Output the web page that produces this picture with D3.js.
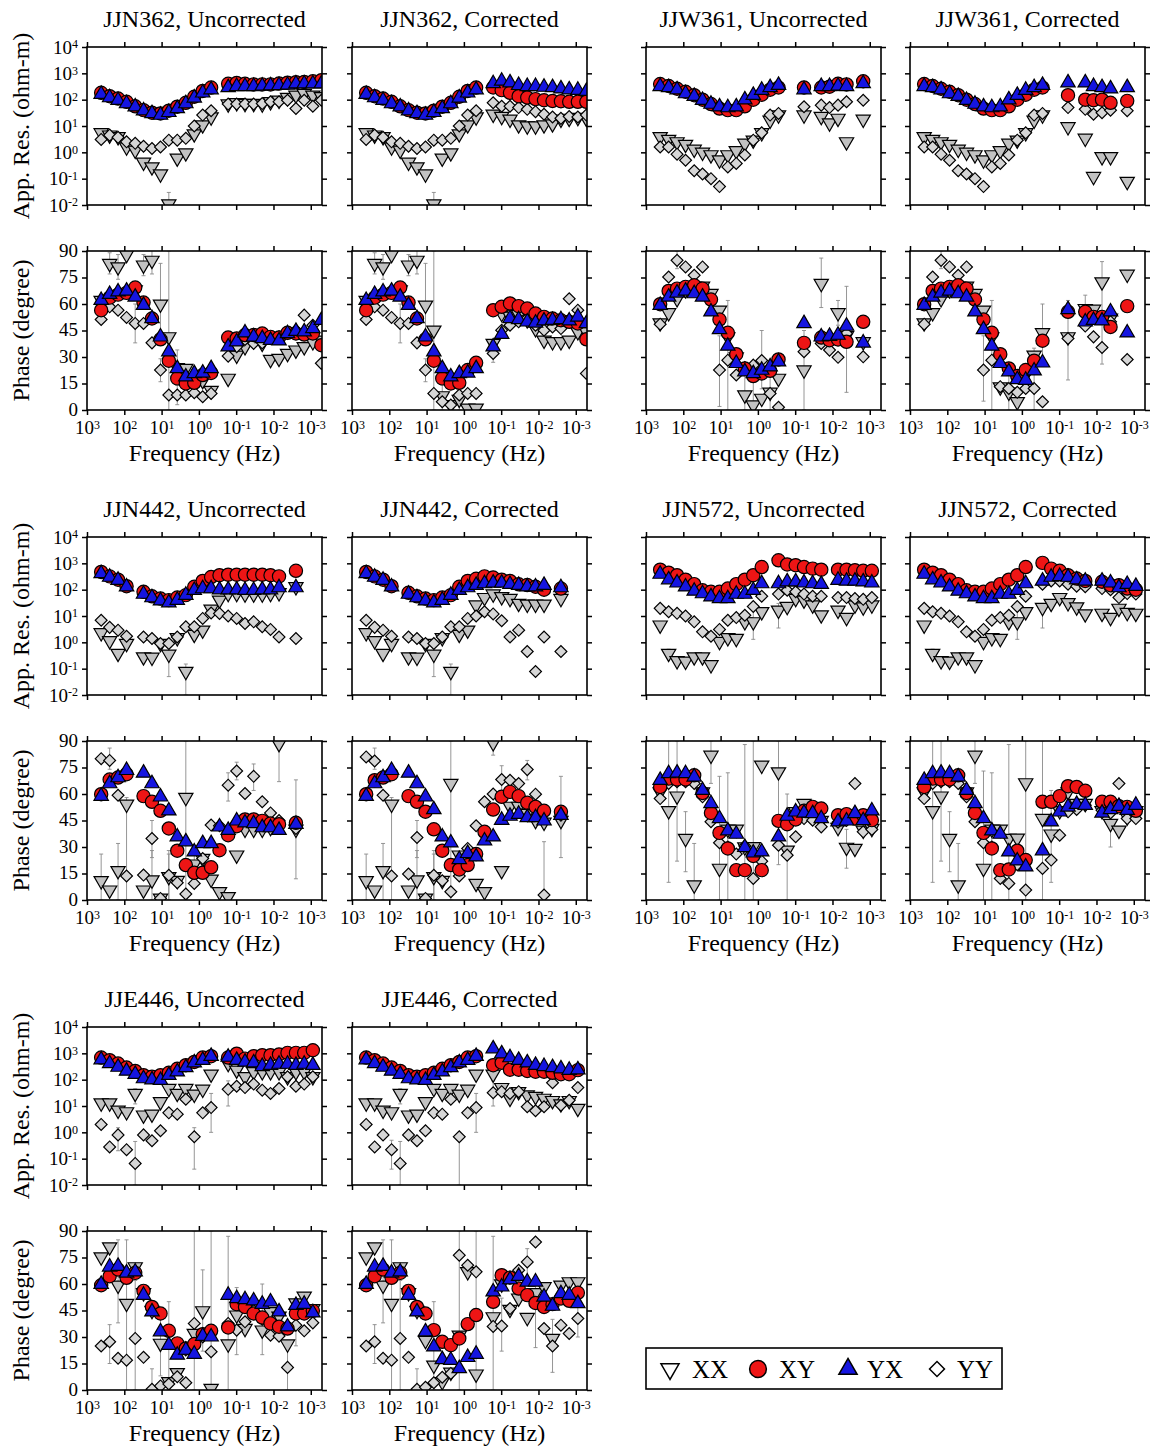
<!DOCTYPE html>
<html>
<head>
<meta charset="utf-8">
<script src="https://cdn.jsdelivr.net/npm/d3@7"></script>
<style>
  body { margin: 0; background: #fff; }
  text { font-family: "Liberation Serif", "Times New Roman", serif; fill: #000; }
</style>
</head>
<body>
<svg id="chart" width="1158" height="1449"></svg>
<script>
const N = null;

// sounding frequencies (Hz), shared grid for all stations
const freq = [417, 247, 147, 87, 51, 30.5, 18.1, 10.7, 6.4, 3.8, 2.24, 1.33, 0.79, 0.47, 0.28,
  0.164, 0.097, 0.058, 0.034, 0.020, 0.012, 0.0071, 0.0042, 0.0025, 0.0015, 0.00088, 0.00052];

const freqTicks = [1e3, 1e2, 1e1, 1, 1e-1, 1e-2, 1e-3];
const rhoTicks = [1e-2, 1e-1, 1, 1e1, 1e2, 1e3, 1e4];
const phaseTicks = [0, 15, 30, 45, 60, 75, 90];

// ---- JJN362 ----
const rhoJJN362u = {
  xx: [5.5, 4.5, 3.9, 1.6, 1.2, 0.42, 0.28, 0.15, 0.011, 0.6, 0.95, 5, 11, 22, N, 68, 76, 71, 71, 68, 83, 95, 120, 148, 170, 148, 129],
  xy: [182, 135, 110, 83, 56, 40, 32, 30, 38, 54, 76, 129, 214, 288, N, 400, 430, 400, 380, 380, 380, 410, 440, 460, 470, 500, 550],
  yx: [162, 120, 95, 71, 54, 38, 30, 26, 33, 46, 71, 117, 182, 240, N, 290, 320, 320, 320, 330, 340, 350, 360, 400, 400, 400, 400],
  yy: [3.1, 4.5, 3.7, 2.5, 2.2, 1.7, 1.4, 1.6, 2.9, 2.9, 3.4, 10, 26, 38, N, 68, 68, 68, 68, 71, 83, 83, 95, 46, 95, 56, 95]
};
const phJJN362u = {
  xx: [62, 82.9, 81, 88, 68, 82, 84.7, 59.9, 41.4, 24, 23.5, 18, 16.6, 11, N, 17.9, 31, 35.8, 39.5, 37.7, 28.6, 29.2, 32, 33.9, 35.8, 38.6, 39.5],
  xy: [56.5, 63.6, 65.3, 66.3, 69.3, 60.8, 51.8, 40, 27.9, 17.9, 15, 15.4, 19.8, 21, N, 41, 40.5, 42.4, 42.4, 43.3, 41.4, 41, 43.7, 43.3, 42.7, 43.3, 36.7],
  yx: [62.1, 65.5, 66.9, 67.4, 64, 59.3, 51.8, 41.4, 33, 23.5, 18.8, 20.7, 21, 23.5, N, 35.8, 38.6, 43.7, 41.4, 40.5, 39.5, 39.2, 43.3, 44.6, 44.3, 46.1, 50.8],
  yy: [51.2, 58.4, 56.5, 52.4, 49, 49, 38, 22.6, 8.5, 8.5, 8.5, 9.8, 7.5, 9.4, N, 30.5, 35.8, 39.9, 37.7, 38, 40.5, 41.4, 43.3, 45.2, 53.7, 48, 26.4]
};
const errJJN362u = [
  ['ph', 'xx', 1, 77, 89], ['ph', 'xx', 2, 74, 88], ['ph', 'xx', 5, 76, 88], ['ph', 'xx', 6, 77, 92],
  ['ph', 'xx', 7, 37, 83], ['ph', 'xx', 8, 0, 90], ['ph', 'xx', 9, 14, 34], ['ph', 'yy', 4, 38, 60],
  ['ph', 'yy', 7, 16, 29], ['ph', 'yy', 9, 3, 14], ['rho', 'xx', 8, 0.005, 0.03]
];
const rhoJJN362c = {
  xx: [5.5, 4.5, 3.9, 1.6, 1.2, 0.42, 0.28, 0.15, 0.011, 0.6, 0.95, 5, 11, 22, N, 28, 23, 18, 11, 10, 10, 11, 12, 18, 19.5, 21, 19.5],
  xy: [182, 135, 110, 83, 56, 40, 32, 30, 38, 54, 76, 129, 214, 288, N, 290, 230, 182, 135, 120, 105, 95, 89, 87, 83, 83, 83],
  yx: [162, 120, 95, 71, 54, 38, 30, 26, 33, 46, 71, 117, 182, 240, N, 410, 510, 440, 350, 320, 320, 300, 290, 260, 240, 230, 210],
  yy: [3.1, 4.5, 3.7, 2.5, 2.2, 1.7, 1.4, 1.6, 2.9, 2.9, 3.4, 10, 26, 38, N, 76, 56, 56, 50, 43, 35, 28, 22, 19.5, 23, 22, 26]
};
const phJJN362c = {
  xx: [62, 82.9, 81, 88, 68, 82, 84.7, 59.3, 45.2, 8, 3, 6, 1, 1, N, 37.7, 54.6, 53, 54, 51, 46, 39.5, 38.6, 38.6, 39.5, 44.3, 44.3],
  xy: [56.5, 63.6, 65.3, 66.3, 69.3, 60.8, 51.8, 40, 27.9, 17.9, 15, 15.4, 22.6, 26.7, N, 56.5, 58.4, 60.3, 58.8, 57.4, 54.6, 52.7, 51.8, 50.8, 49.9, 49, 40],
  yx: [62.1, 65.5, 66.9, 67.4, 64, 59.3, 51.8, 41.4, 33, 23.5, 18.8, 20.7, 21, 23.5, N, 35.8, 42.9, 51.8, 51.2, 49.9, 49.3, 50.5, 50.8, 51.2, 50.5, 52.7, 49],
  yy: [51.2, 58.4, 56.5, 52.4, 49, 49, 38, 22.6, 9.4, 4.7, 2.8, 8.5, 9.4, 9.4, N, 32, 45.2, 48, 49.9, 51.8, 48, 45.2, 47, 46.1, 63, 56.5, 20.7]
};
const errJJN362c = [
  ['ph', 'xx', 1, 77, 89], ['ph', 'xx', 2, 74, 88], ['ph', 'xx', 5, 76, 88], ['ph', 'xx', 6, 77, 92],
  ['ph', 'xx', 7, 37, 83], ['ph', 'xx', 8, 0, 90], ['ph', 'yy', 4, 38, 60], ['ph', 'yy', 7, 16, 29],
  ['ph', 'yy', 9, 0, 14], ['ph', 'yy', 11, 0, 16], ['ph', 'yy', 15, 27, 37], ['rho', 'xx', 8, 0.005, 0.03]
];

// ---- JJW361 ----
const rhoJJW361u = {
  xx: [3.9, 3.1, 2.5, 2.0, 1.3, 1.0, 0.8, 0.51, 0.8, 1.15, 2.2, 2.9, 5.5, 16.6, 26, N, N, 26, N, 23, 13, 19.5, 2.5, N, 18, N, N],
  xy: [390, 330, 260, 200, 148, 100, 68, 46, 40, 40, 56, 100, 155, 240, 290, N, N, 290, N, 290, 310, 400, 380, N, 500, N, N],
  yx: [320, 290, 240, 170, 135, 95, 68, 54, 50, 54, 100, 148, 230, 290, 355, N, N, 240, N, 320, 320, 330, 320, N, 410, N, N],
  yy: [1.6, 1.6, 0.85, 0.5, 0.2, 0.15, 0.1, 0.05, 0.28, 0.38, 0.79, 2.9, 5.5, 26, 30, N, N, 54, N, 62, 50, 62, 83, N, 95, N, N]
};
const phJJW361u = {
  xx: [49.3, 55, 63, 68, 70, 70, 65.9, 56.5, 41.4, 30, 8.5, 2.8, 6.6, 10, 17.9, N, N, 22.6, N, 71.6, 40.5, 55, 42, N, 38.6, N, N],
  xy: [59.9, 67.4, 68.7, 69.7, 70.6, 68.7, 62.5, 51.2, 43.7, 31.6, 23.5, 19.2, 20.7, 22.2, 28.6, N, N, 38, N, 41, 39.5, 39.9, 38.6, N, 49.9, N, N],
  yx: [59.3, 64, 66.3, 67.4, 65.9, 64, 55.6, 45.6, 36.2, 26.4, 21.7, 20.7, 22.6, 24.5, 27.3, N, N, 49, N, 41.4, 41.8, 42.4, 47.5, N, 38, N, N],
  yy: [48.6, 75.3, 84.7, 81, 76.3, 81, 62, 22.6, 28.2, 19.8, 24, 25.4, 28, 9.4, 1.5, N, N, 33, N, 37.7, 33.9, 29.8, 43.3, N, 30.1, N, N]
};
const errJJW361u = [
  ['ph', 'yy', 2, 80, 90], ['ph', 'yy', 7, 2, 42], ['ph', 'xx', 8, 0, 62], ['ph', 'xx', 10, 0, 22],
  ['ph', 'xx', 11, 0, 18], ['ph', 'yy', 12, 12, 45], ['ph', 'xx', 13, 0, 28], ['ph', 'xx', 17, 0, 45],
  ['ph', 'xx', 19, 58, 86], ['ph', 'xx', 21, 48, 62], ['ph', 'xx', 22, 10, 70]
];
const rhoJJW361c = {
  xx: [3.9, 3.1, 2.5, 2.0, 1.3, 1.0, 0.8, 0.51, 0.8, 1.15, 2.2, 2.9, 5.5, 16.6, 26, N, N, 9.3, N, 3.4, 0.12, 0.68, 0.68, N, 0.078, N, N],
  xy: [390, 330, 260, 200, 148, 100, 68, 46, 40, 40, 56, 100, 155, 240, 290, N, N, 148, N, 100, 95, 100, 76, N, 90, N, N],
  yx: [320, 290, 240, 170, 135, 95, 68, 54, 50, 54, 100, 148, 230, 290, 355, N, N, 440, N, 440, 320, 290, 260, N, 290, N, N],
  yy: [1.6, 1.6, 0.85, 0.5, 0.2, 0.15, 0.1, 0.05, 0.28, 0.38, 0.79, 2.9, 5.5, 26, 30, N, N, 50, N, 43, 28, 32, 40, N, 38, N, N]
};
const phJJW361c = {
  xx: [49.3, 55, 63, 68, 70, 70, 65.9, 56.5, 41.4, 13, 10, 4.7, 20, 31, 43.7, N, N, 41.4, N, 57.4, 57, 72.5, 52, N, 76.8, N, N],
  xy: [59.9, 67.4, 68.7, 69.7, 70.6, 68.7, 62.5, 51.2, 43.7, 31.6, 23.5, 19.2, 22.6, 27.9, 39.2, N, N, 55.6, N, 55.6, 52.7, 52.7, 47, N, 58.8, N, N],
  yx: [59.3, 64, 66.3, 67.4, 65.9, 64, 55.6, 45.6, 36.2, 26.4, 21.7, 17.3, 16.9, 22.2, 26.7, N, N, 56.9, N, 49.9, 50.8, 50.5, 55.6, N, 43.7, N, N],
  yy: [48.6, 75.3, 84.7, 81, 76.3, 81, 62, 22.6, 28.2, 13.2, 12.2, 10, 12.2, 12.2, 4.7, N, N, 40.5, N, 47.5, 41.4, 35.4, 50, N, 28.6, N, N]
};
const errJJW361c = [
  ['ph', 'yy', 2, 80, 90], ['ph', 'yy', 7, 5, 42], ['ph', 'xx', 8, 0, 62], ['ph', 'xx', 10, 0, 20],
  ['ph', 'xx', 13, 0, 35], ['ph', 'xx', 14, 28, 60], ['ph', 'xx', 17, 17, 62], ['ph', 'xx', 19, 45, 65],
  ['ph', 'xx', 21, 26, 84]
];

// ---- JJN442 ----
const rhoJJN442u = {
  xx: [2.3, 1.15, 0.38, 0.9, N, 0.28, 0.27, 0.9, 0.35, 1.5, 0.078, 2.0, 2.9, 18, 40, 71, 71, 68, 68, 68, 71, 76, N, 129, N, N, N],
  xy: [470, 320, 240, 135, N, 83, 56, 46, 40, 50, 62, 129, 214, 300, 355, 370, 370, 370, 370, 370, 355, 320, N, 520, N, N, N],
  yx: [410, 300, 230, 129, N, 68, 50, 38, 32, 40, 62, 95, 110, 110, 100, 100, 100, 95, 95, 100, 100, 120, N, 120, N, N, N],
  yy: [6.9, 3.7, 2.9, 1.7, N, 1.6, 1.4, 0.9, 0.9, 1.6, 3.9, 3.9, 8.1, 13, 12.5, 10, 8.1, 5.2, 6, 3.9, 3.1, 1.6, N, 1.4, N, N, N]
};
const phJJN442u = {
  xx: [10.9, 5.6, 16.6, 54.2, N, 5.6, 11.3, 1, 13.2, 11, 58, 20.3, 23.5, 11.7, 4.7, 1.9, 25.4, 40, 40, 40, 41, 88.5, N, 40, N, N, N],
  xy: [59.9, 68.2, 69.3, 71.2, N, 58.8, 55.6, 50.5, 40.5, 27.9, 19.8, 15.4, 15.4, 18.5, 28.2, 36.7, 41.8, 45.6, 45.6, 44.8, 43.3, 42.9, N, 43.7, N, N, N],
  yx: [58.8, 65.9, 69.3, 73.4, N, 71.9, 65.9, 58.4, 50.5, 35.8, 33, 27.3, 32, 32, 41.4, 39.5, 44.8, 43.7, 43.3, 41, 41, 39.5, N, 42.9, N, N, N],
  yy: [80, 79, 59.3, 13.6, N, 14.1, 34.8, 0.9, 14, 9.8, 3.4, 9.4, 23.5, 42.4, 42, 65, 73, 60.3, 70, 55.6, 49.3, 45, N, 40.5, N, N, N]
};
const errJJN442u = [
  ['ph', 'xx', 0, 0, 26], ['ph', 'xx', 2, 0, 32], ['ph', 'xx', 3, 0, 58], ['ph', 'xx', 6, 0, 28],
  ['ph', 'xx', 8, 0, 26], ['ph', 'xx', 10, 0, 90], ['ph', 'xx', 11, 10, 30], ['ph', 'yy', 1, 74, 86],
  ['ph', 'yy', 6, 24, 45], ['ph', 'yy', 8, 0, 28], ['ph', 'yy', 15, 56, 72], ['ph', 'yy', 16, 68, 78],
  ['ph', 'yy', 18, 62, 77], ['ph', 'xx', 21, 67, 90], ['ph', 'xx', 23, 12, 68],
  ['rho', 'xx', 8, 0.05, 1], ['rho', 'xx', 10, 0.01, 0.15]
];
const rhoJJN442c = {
  xx: [2.3, 1.15, 0.38, 0.9, N, 0.28, 0.27, 0.9, 0.35, 1.5, 0.078, 2.0, 2.9, 26, 50, 68, 54, 46, 30, 28, 28, 28, N, 46, N, N, N],
  xy: [470, 320, 240, 135, N, 76, 56, 46, 40, 50, 62, 129, 214, 260, 320, 290, 240, 214, 160, 150, 129, 100, N, 110, N, N, N],
  yx: [410, 300, 230, 129, N, 68, 50, 38, 32, 40, 62, 95, 120, 148, 170, 180, 180, 160, 148, 129, 129, 148, N, 120, N, N, N],
  yy: [6.9, 3.7, 2.9, 1.7, N, 1.6, 1.4, 0.9, 0.9, 1.6, 3.9, 3.9, 8.1, 10, 14.5, 12, 6.6, 1.6, 2.9, 0.45, 0.078, 1.6, N, 0.45, N, N, N]
};
const phJJN442c = {
  xx: [10.9, 5.6, 16.6, 54.2, N, 5.6, 11.3, 1, 13.2, 11, 65.9, 25.4, 23, 9.4, 4.7, 89, 16.6, 53, 53, 49, 45, 44, N, 45, N, N, N],
  xy: [59.9, 67.8, 69.3, 71.2, N, 58.8, 55.6, 50, 40, 27.9, 19.8, 17.3, 19.8, 26, 38.6, 51.2, 58.4, 61.2, 58.8, 55, 52.7, 50.5, N, 49.9, N, N, N],
  yx: [58.8, 65.9, 69.3, 73.4, N, 71.9, 65.9, 58.4, 51.2, 35.8, 32.4, 23, 26.4, 24.5, 33.5, 35.8, 45.2, 47.5, 48.6, 46.7, 46.7, 44.8, N, 48, N, N, N],
  yy: [81, 78.7, 59.3, 13.6, N, 14.7, 35.4, 0.9, 14, 10.9, 4.7, 13.6, 29.2, 42, 55.6, 60, 68.2, 67.8, 65.9, 73.8, 59.9, 2.8, N, 48, N, N, N]
};
const errJJN442c = [
  ['ph', 'xx', 0, 0, 26], ['ph', 'xx', 2, 0, 32], ['ph', 'xx', 3, 0, 58], ['ph', 'xx', 6, 0, 28],
  ['ph', 'xx', 8, 0, 26], ['ph', 'xx', 10, 0, 90], ['ph', 'yy', 1, 74, 86], ['ph', 'yy', 6, 24, 45],
  ['ph', 'yy', 8, 0, 28], ['ph', 'xx', 15, 82, 90], ['ph', 'yy', 16, 60, 76], ['ph', 'yy', 19, 68, 79],
  ['ph', 'xx', 21, 0, 33], ['ph', 'xx', 23, 24, 70], ['rho', 'xx', 8, 0.05, 1], ['rho', 'xx', 10, 0.01, 0.15]
];

// ---- JJN572 ----
const rhoJJN572u = {
  xx: [4.5, 0.38, 0.2, 0.19, 0.28, 0.28, 0.14, 1.07, 1.5, 1.4, 6, 6, 14.5, N, 16.6, 23, 46, 40, 26, 11, N, 16.6, 8.8, 26, 22, 26, N],
  xy: [575, 440, 355, 240, 162, 95, 83, 83, 110, 162, 240, 355, 720, N, 1300, 910, 850, 720, 630, 575, N, 575, 575, 550, 520, 520, N],
  yx: [390, 240, 182, 129, 89, 71, 54, 46, 46, 68, 68, 95, 170, N, 170, 200, 200, 182, 170, 162, N, 230, 214, 214, 200, 182, N],
  yy: [19.5, 14.5, 12.6, 10, 6, 2.5, 1.7, 3.1, 6.9, 8.7, 10.7, 23, 56, N, 68, 95, 83, 68, 56, 56, N, 50, 50, 46, 43, 50, N]
};
const phJJN572u = {
  xx: [61.2, 50.5, 58.8, 34.8, 8.5, 61.2, 81.9, 17.9, 40, 40, 30, 30.1, 76.3, N, 72.5, 28.2, 50, 54.6, 51, 45, N, 41, 29.8, 29.2, 39.5, 40.5, N],
  xy: [64, 68.7, 68.2, 68.2, 70.6, 60.6, 49.3, 38, 29.2, 16.9, 16.9, 24.9, 16.9, N, 44.8, 42.9, 45.6, 50.5, 52.7, 51.8, N, 48, 48.6, 46.1, 48, 45.2, N],
  yx: [67.8, 71.6, 71.9, 71.6, 69.7, 62.1, 54.6, 46.1, 39.2, 37.3, 29.8, 26.7, 27.3, N, 35.8, 47.5, 49.9, 49.3, 49, 46.1, N, 44.3, 44.8, 49, 45, 50.5, N],
  yy: [57.4, 66, 67, 67, 66, 58.4, 44.3, 32.4, 30, 26, 30.5, 12.2, 22, N, 31, 25.4, 35.8, 46.1, 45.2, 41.4, N, 44, 45, 65.9, 38.6, 39.9, N]
};
const errJJN572u = [
  ['ph', 'xx', 1, 10, 90], ['ph', 'xx', 2, 22, 90], ['ph', 'xx', 3, 16, 50], ['ph', 'xx', 4, 0, 32],
  ['ph', 'xx', 6, 66, 90], ['ph', 'xx', 7, 0, 70], ['ph', 'xx', 8, 0, 72], ['ph', 'xx', 10, 0, 88],
  ['ph', 'xx', 11, 0, 90], ['ph', 'xx', 14, 20, 90], ['ph', 'xx', 15, 0, 60], ['ph', 'xx', 22, 18, 40],
  ['rho', 'xx', 1, 0.25, 0.55], ['rho', 'xx', 11, 1.3, 18], ['rho', 'xx', 14, 3.5, 30]
];
const rhoJJN572c = {
  xx: [4.5, 0.38, 0.2, 0.19, 0.28, 0.28, 0.14, 1.07, 1.5, 1.4, 6, 6, 14.5, N, 21, 30, 50, 32, 22, 12, N, 12.6, 8.8, 19.5, 13.5, 12.6, N],
  xy: [575, 440, 355, 240, 162, 95, 83, 83, 110, 162, 240, 355, 720, N, 1040, 630, 520, 355, 265, 214, N, 200, 148, 148, 110, 100, N],
  yx: [390, 240, 182, 129, 89, 71, 54, 46, 46, 68, 68, 95, 170, N, 214, 300, 320, 300, 240, 214, N, 214, 182, 120, 160, 135, N],
  yy: [19.5, 14.5, 12.6, 10, 6, 2.5, 1.7, 3.1, 6.9, 8.7, 10.7, 23, 56, N, 162, 214, 214, 162, 135, 129, N, 110, 100, 50, 71, 68, N]
};
const phJJN572c = {
  xx: [61.2, 50.5, 58.8, 34.8, 8.5, 61.2, 81.9, 17.9, 40, 40, 34.8, 35, 66.3, N, 46.1, 37.3, 50.5, 61.2, 54.6, 54.6, N, 50.5, 43.3, 39.5, 47, 50.5, N],
  xy: [64, 68.7, 68.2, 68.2, 70.6, 60.6, 49.3, 38, 29.2, 16.9, 17.3, 27.9, 22.6, N, 55.6, 55.6, 58.8, 64.4, 64, 61.8, N, 55.6, 55.6, 53.1, 52.7, 50.5, N],
  yx: [67.8, 71.6, 71.9, 71.6, 69.7, 62.1, 54.6, 46.1, 39.2, 37.3, 27.3, 22.2, 18.8, N, 27.9, 44.3, 49.9, 52.7, 54.2, 53.7, N, 49.3, 51.2, 53.1, 50.8, 53.7, N],
  yy: [57.4, 66, 67, 67, 66, 58.4, 44.3, 32.4, 30, 12.2, 9.4, 20, 5.6, N, 17.9, 22.6, 36.7, 49.9, 51.2, 53.7, N, 50.8, 49.3, 65.9, 46.1, 46.1, N]
};
const errJJN572c = [
  ['ph', 'xx', 1, 10, 90], ['ph', 'xx', 2, 22, 90], ['ph', 'xx', 3, 16, 50], ['ph', 'xx', 4, 0, 32],
  ['ph', 'xx', 6, 66, 90], ['ph', 'xx', 7, 0, 73], ['ph', 'xx', 8, 0, 72], ['ph', 'xx', 10, 0, 88],
  ['ph', 'xx', 12, 0, 90], ['ph', 'xx', 14, 0, 90], ['ph', 'xx', 15, 10, 62], ['ph', 'xx', 22, 30, 50],
  ['rho', 'xx', 1, 0.25, 0.55], ['rho', 'xx', 11, 1.3, 18], ['rho', 'xx', 14, 3.5, 30]
];

// ---- JJE446 ----
const rhoJJE446u = {
  xx: [13, 13, 6.9, 6, 30, 4.5, 4.9, 14.5, 46, 30, 46, 28, 43, 162, N, 410, 230, 129, 200, 200, 200, 200, 129, 200, 200, 129, N],
  xy: [690, 550, 410, 290, 214, 148, 129, 148, 182, 260, 355, 470, 690, 780, N, 690, 970, 630, 780, 850, 850, 910, 1040, 1040, 1040, 1310, N],
  yx: [575, 410, 300, 214, 162, 110, 100, 95, 148, 200, 290, 440, 550, 780, N, 720, 550, 470, 440, 320, 355, 390, 390, 355, 390, 355, N],
  yy: [2, 0.28, 0.8, 0.22, 0.066, 0.8, 0.48, 1.15, 5.5, 4.9, 18, 0.68, 5.5, 8.7, N, 43, 56, 50, 68, 40, 30, 46, 129, 56, 68, 129, N]
};
const phJJE446u = {
  xx: [75.3, 81, 59.3, 49, 69.7, 55, 45, 26.4, 4.7, 9.8, 24, 32, 44.8, 0.9, N, 26, 42.4, 34.8, 48, 33.9, 44.3, 41.8, 26, 49.3, 53.1, 46, N],
  xy: [59.3, 64.4, 68.2, 63.5, 66.3, 56.1, 47, 43.3, 33.5, 26.4, 23.5, 26, 31.6, 33.5, N, 35.4, 48.6, 47, 43.3, 41, 37.7, 35.8, 34.8, 43.3, 43.3, 44.8, N],
  yx: [59.9, 69.7, 70.1, 66.3, 66.9, 53.7, 44.3, 33, 25.4, 19.8, 22.6, 20.3, 30.5, 30.1, N, 53.7, 51.8, 51.2, 50.5, 48.6, 49.9, 44.3, 35.8, 48, 48.6, 43.7, N],
  yy: [24.9, 27.3, 18, 16.9, 29.2, 18.5, 0.4, 2.3, 3.4, 7.5, 4.1, 37.7, 30, 21.7, N, 37.7, 33.9, 38.6, 45, 40, 31, 30.5, 12.8, 36.7, 33.5, 38, N]
};
const errJJE446u = [
  ['ph', 'xx', 2, 38, 85], ['ph', 'yy', 1, 15, 37], ['ph', 'xx', 3, 0, 85], ['ph', 'yy', 4, 0, 62],
  ['ph', 'yy', 6, 0, 12], ['ph', 'xx', 7, 8, 45], ['ph', 'xx', 8, 0, 50], ['ph', 'xx', 11, 0, 90],
  ['ph', 'xx', 12, 22, 68], ['ph', 'xx', 13, 0, 90], ['ph', 'xx', 15, 0, 87], ['ph', 'yy', 16, 20, 58],
  ['ph', 'xx', 19, 20, 60], ['ph', 'yy', 22, 0, 28], ['ph', 'yy', 23, 25, 50],
  ['rho', 'yy', 4, 0.01, 0.45], ['rho', 'yy', 11, 0.04, 1.5], ['rho', 'yy', 13, 1, 30],
  ['rho', 'xx', 4, 12, 45], ['rho', 'yy', 15, 10, 90], ['rho', 'yy', 2, 0.2, 1.5]
];
const rhoJJE446c = {
  xx: [13, 13, 6.9, 6, 30, 4.5, 4.9, 14.5, 46, 30, 46, 28, 43, 162, N, 162, 50, 19.5, 35, 26, 23, 19.5, 16, 12, 16, 8.1, N],
  xy: [690, 550, 410, 290, 214, 148, 129, 148, 182, 260, 355, 470, 690, 780, N, 355, 440, 240, 240, 214, 200, 200, 182, 162, 162, 230, N],
  yx: [575, 410, 300, 214, 162, 110, 100, 95, 148, 200, 290, 440, 550, 780, N, 1500, 970, 690, 550, 440, 355, 320, 290, 260, 230, 240, N],
  yy: [2, 0.28, 0.8, 0.22, 0.066, 0.8, 0.48, 1.15, 5.5, 4.9, 18, 0.68, 5.5, 8.7, N, 32, 35, 30, 35, 9.4, 6.6, 9.4, 76, 10.7, 16.6, 50, N]
};
const phJJE446c = {
  xx: [75.3, 81, 59.3, 49, 69.7, 55, 45, 28, 14, 4.7, 10, 31, 66.9, 9, N, 41.4, 60, 45.6, 52, 41, 55, 58.4, 29.2, 59.3, 61.2, 61.2, N],
  xy: [59.3, 64.4, 68.2, 63.5, 66.3, 56.1, 47, 43.3, 33.9, 27.3, 25.4, 29.2, 37.3, 42.4, N, 49.9, 65, 63.6, 57.4, 53.7, 49.3, 47, 48.6, 51.8, 50.5, 55, N],
  yx: [59.9, 69.7, 70.1, 66.3, 66.9, 53.7, 44.3, 33, 24.5, 17.3, 16.9, 12.2, 18.5, 20.3, N, 55.6, 58.4, 62.5, 64.4, 61.2, 61.2, 52.7, 47.5, 54.6, 53.7, 49, N],
  yy: [24.9, 27.3, 18, 16.9, 29.2, 18.5, 0.4, 1.5, 4.1, 7.2, 9.4, 76.3, 70.6, 66.9, N, 36, 36.2, 46.1, 67.8, 72.5, 83.8, 34.8, 24.9, 36.7, 32, 40.5, N]
};
const errJJE446c = [
  ['ph', 'xx', 2, 38, 85], ['ph', 'yy', 1, 15, 37], ['ph', 'xx', 3, 0, 85], ['ph', 'yy', 4, 0, 62],
  ['ph', 'yy', 6, 0, 12], ['ph', 'xx', 8, 0, 50], ['ph', 'yy', 11, 0, 90], ['ph', 'yy', 13, 0, 90],
  ['ph', 'xx', 15, 0, 87], ['ph', 'yy', 16, 22, 52], ['ph', 'yy', 19, 60, 80], ['ph', 'xx', 20, 24, 62],
  ['ph', 'yy', 22, 10, 40], ['ph', 'xx', 25, 30, 62],
  ['rho', 'yy', 4, 0.01, 0.45], ['rho', 'yy', 3, 0.04, 0.5], ['rho', 'yy', 11, 0.01, 0.5],
  ['rho', 'yy', 13, 1, 30], ['rho', 'xx', 4, 12, 45], ['rho', 'yy', 15, 10, 90]
];

const panels = [
  { title: 'JJN362, Uncorrected', col: 0, row: 0, rho: rhoJJN362u, ph: phJJN362u, err: errJJN362u },
  { title: 'JJN362, Corrected', col: 1, row: 0, rho: rhoJJN362c, ph: phJJN362c, err: errJJN362c },
  { title: 'JJW361, Uncorrected', col: 2, row: 0, rho: rhoJJW361u, ph: phJJW361u, err: errJJW361u },
  { title: 'JJW361, Corrected', col: 3, row: 0, rho: rhoJJW361c, ph: phJJW361c, err: errJJW361c },
  { title: 'JJN442, Uncorrected', col: 0, row: 1, rho: rhoJJN442u, ph: phJJN442u, err: errJJN442u },
  { title: 'JJN442, Corrected', col: 1, row: 1, rho: rhoJJN442c, ph: phJJN442c, err: errJJN442c },
  { title: 'JJN572, Uncorrected', col: 2, row: 1, rho: rhoJJN572u, ph: phJJN572u, err: errJJN572u },
  { title: 'JJN572, Corrected', col: 3, row: 1, rho: rhoJJN572c, ph: phJJN572c, err: errJJN572c },
  { title: 'JJE446, Uncorrected', col: 0, row: 2, rho: rhoJJE446u, ph: phJJE446u, err: errJJE446u },
  { title: 'JJE446, Corrected', col: 1, row: 2, rho: rhoJJE446c, ph: phJJE446c, err: errJJE446c }
];

// layout
const COLS = [87, 352, 646, 910];
const ROWS = [47, 537, 1027];
const W = 235, HR = 158, HP = 159, PH_OFF = 204;
const TICK_FONT = 19;

const x = d3.scaleLog().domain([1000, 0.0005]).range([0, W]);
const yRho = d3.scaleLog().domain([0.01, 10000]).range([HR, 0]);
const yPh = d3.scaleLinear().domain([0, 90]).range([HP, 0]);

const series = [
  { key: 'xx', label: 'XX', type: d3.symbolTriangle, size: 88, rot: 180, fill: '#c2c2c2', legendFill: '#fff' },
  { key: 'yy', label: 'YY', type: d3.symbolSquare, size: 70, rot: 45, fill: '#d6d6d6', legendFill: '#fff' },
  { key: 'xy', label: 'XY', type: d3.symbolCircle, size: 138, rot: 0, fill: '#ee1515', legendFill: '#ee1515' },
  { key: 'yx', label: 'YX', type: d3.symbolTriangle, size: 90, rot: 0, fill: '#1515e0', legendFill: '#1515e0' }
];

const svg = d3.select('#chart');
const defs = svg.append('defs');
defs.append('clipPath').attr('id', 'clipRho').append('rect').attr('width', W).attr('height', HR);
defs.append('clipPath').attr('id', 'clipPh').append('rect').attr('width', W).attr('height', HP);

function powerLabels(sel) {
  sel.each(function (v) {
    const t = d3.select(this);
    const e = Math.round(Math.log10(v));
    t.text(null);
    t.append('tspan').text('10');
    t.append('tspan').attr('dy', '-0.45em').attr('font-size', 12).text(e);
  });
}

function drawPlot(g, y, h, vals, errs, qty, yTicks, showXLabels, showYLabels, clipId) {
  const isLog = qty === 'rho';
  // axes: ticks outward on all four sides
  const bottom = g.append('g').attr('transform', `translate(0,${h})`)
    .call(d3.axisBottom(x).tickValues(freqTicks).tickSize(5).tickPadding(6));
  g.append('g').call(d3.axisTop(x).tickValues(freqTicks).tickSize(5).tickFormat(''));
  const left = g.append('g')
    .call(d3.axisLeft(y).tickValues(yTicks).tickSize(5).tickPadding(4));
  g.append('g').attr('transform', `translate(${W},0)`)
    .call(d3.axisRight(y).tickValues(yTicks).tickSize(5).tickFormat(''));

  g.selectAll('.domain').remove();
  g.selectAll('.tick line').attr('stroke', '#000').attr('stroke-width', 1.5);
  g.selectAll('.tick text').attr('font-family', null).attr('font-size', TICK_FONT).attr('fill', '#000');

  if (showXLabels) bottom.selectAll('.tick text').call(powerLabels);
  else bottom.selectAll('.tick text').remove();

  if (showYLabels) {
    if (isLog) left.selectAll('.tick text').call(powerLabels);
    else left.selectAll('.tick text').attr('dy', '0.28em');
  } else left.selectAll('.tick text').remove();

  const plot = g.append('g').attr('clip-path', `url(#${clipId})`);

  // error bars
  const eb = errs.filter(e => e[0] === qty);
  const ebG = plot.append('g').attr('stroke', '#8a8a8a').attr('stroke-width', 0.9);
  eb.forEach(e => {
    const cx = x(freq[e[2]]);
    ebG.append('line').attr('x1', cx).attr('x2', cx).attr('y1', y(e[3])).attr('y2', y(e[4]));
    ebG.append('line').attr('x1', cx - 2).attr('x2', cx + 2).attr('y1', y(e[3])).attr('y2', y(e[3]));
    ebG.append('line').attr('x1', cx - 2).attr('x2', cx + 2).attr('y1', y(e[4])).attr('y2', y(e[4]));
  });

  series.forEach(s => {
    const pts = freq.map((f, i) => ({ f, v: vals[s.key][i] })).filter(d => d.v != null);
    plot.append('g').selectAll('path').data(pts).join('path')
      .attr('d', d3.symbol().type(s.type).size(s.size))
      .attr('transform', d => `translate(${x(d.f)},${y(d.v)}) rotate(${s.rot})`)
      .attr('fill', s.fill)
      .attr('stroke', '#000')
      .attr('stroke-width', 1.2);
  });

  g.append('rect').attr('width', W).attr('height', h)
    .attr('fill', 'none').attr('stroke', '#000').attr('stroke-width', 1.6);
}

panels.forEach(p => {
  const x0 = COLS[p.col], y0 = ROWS[p.row];
  const showY = p.col === 0;

  svg.append('text').attr('x', x0 + W / 2).attr('y', y0 - 20)
    .attr('text-anchor', 'middle').attr('font-size', 24).text(p.title);

  const gR = svg.append('g').attr('transform', `translate(${x0},${y0})`);
  drawPlot(gR, yRho, HR, p.rho, p.err, 'rho', rhoTicks, false, showY, 'clipRho');

  const gP = svg.append('g').attr('transform', `translate(${x0},${y0 + PH_OFF})`);
  drawPlot(gP, yPh, HP, p.ph, p.err, 'ph', phaseTicks, true, showY, 'clipPh');

  svg.append('text').attr('x', x0 + W / 2).attr('y', y0 + PH_OFF + HP + 51)
    .attr('text-anchor', 'middle').attr('font-size', 24).text('Frequency (Hz)');

  if (showY) {
    svg.append('text').attr('transform', `translate(29,${y0 + HR / 2}) rotate(-90)`)
      .attr('text-anchor', 'middle').attr('font-size', 24).text('App. Res. (ohm-m)');
    svg.append('text').attr('transform', `translate(29,${y0 + PH_OFF + HP / 2}) rotate(-90)`)
      .attr('text-anchor', 'middle').attr('font-size', 24).text('Phase (degree)');
  }
});

// legend
const legend = svg.append('g').attr('transform', 'translate(646,1348)');
legend.append('rect').attr('width', 356).attr('height', 41)
  .attr('fill', '#fff').attr('stroke', '#000').attr('stroke-width', 1.6);
const legendItems = [
  { s: series[0], mx: 24, tx: 46 },
  { s: series[2], mx: 112, tx: 133 },
  { s: series[3], mx: 202, tx: 221 },
  { s: series[1], mx: 291, tx: 311 }
];
legendItems.forEach(it => {
  legend.append('path')
    .attr('d', d3.symbol().type(it.s.type).size(it.s.size * 1.6)())
    .attr('transform', `translate(${it.mx},21) rotate(${it.s.rot})`)
    .attr('fill', it.s.legendFill).attr('stroke', '#000').attr('stroke-width', 1.5);
  legend.append('text').attr('x', it.tx).attr('y', 30).attr('font-size', 25).text(it.s.label);
});
</script>
</body>
</html>
